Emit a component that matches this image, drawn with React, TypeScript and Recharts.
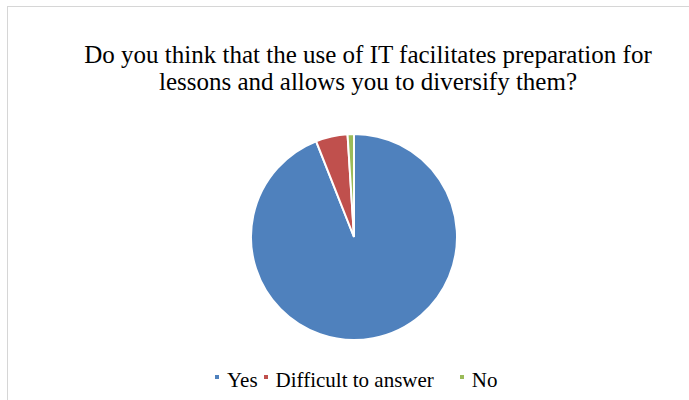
import React from "react";
import { PieChart, Pie, Cell, Legend } from "recharts";

const categories = ["Yes", "Difficult to answer", "No"];
const values = [94, 5, 1];
const colors = ["#4f81bd", "#c0504d", "#9bbb59"];
const titleLines = [
  "Do you think that the use of IT facilitates preparation for",
  "lessons and allows you to diversify them?",
];

const data = categories.map((name, i) => ({ name, value: values[i] }));

const FONT = '"Liberation Serif", "Times New Roman", serif';
const itemGaps = [6, 26, 0];

const renderLegend = () => {
  return (
    <div
      style={{
        position: "absolute",
        left: 215,
        top: 0,
        display: "flex",
        alignItems: "flex-start",
        fontFamily: FONT,
        fontSize: 21,
        lineHeight: "24px",
        color: "#000",
        whiteSpace: "nowrap",
      }}
    >
      {categories.map((name, i) => (
        <div
          key={name}
          style={{ display: "flex", alignItems: "flex-start", marginRight: itemGaps[i] }}
        >
          <span
            style={{
              display: "inline-block",
              width: 4,
              height: 4,
              marginTop: 7,
              marginRight: 8,
              background: colors[i],
            }}
          />
          <span style={{ fontFamily: FONT }}>{name}</span>
        </div>
      ))}
    </div>
  );
};

export default function App() {
  return (
    <div
      style={{
        position: "absolute",
        left: 0,
        top: 0,
        width: 689,
        height: 400,
        overflow: "hidden",
        background: "#fff",
      }}
    >
      <div
        style={{
          position: "absolute",
          left: 7,
          top: 6,
          width: 800,
          height: 500,
          border: "1px solid #d6d6d6",
          boxSizing: "border-box",
        }}
      />
      <div
        style={{
          position: "absolute",
          left: 0,
          top: 41,
          width: 736,
          textAlign: "center",
          fontFamily: FONT,
          fontSize: 25,
          lineHeight: "27px",
          color: "#000",
          whiteSpace: "nowrap",
        }}
      >
        {titleLines.map((t, i) => (
          <div key={i}>{t}</div>
        ))}
      </div>
      <div style={{ position: "absolute", left: 0, top: 0 }}>
        <PieChart width={689} height={400} margin={{ top: 0, right: 0, bottom: 0, left: 0 }}>
          <Pie
            data={data}
            dataKey="value"
            nameKey="name"
            cx={354}
            cy={237}
            outerRadius={103}
            startAngle={90}
            endAngle={-270}
            stroke="#ffffff"
            strokeWidth={2}
            isAnimationActive={false}
          >
            {data.map((d, i) => (
              <Cell key={d.name} fill={colors[i]} />
            ))}
          </Pie>
          <Legend
            content={renderLegend}
            wrapperStyle={{ left: 0, top: 368, width: 689, height: 26 }}
          />
        </PieChart>
      </div>
    </div>
  );
}
